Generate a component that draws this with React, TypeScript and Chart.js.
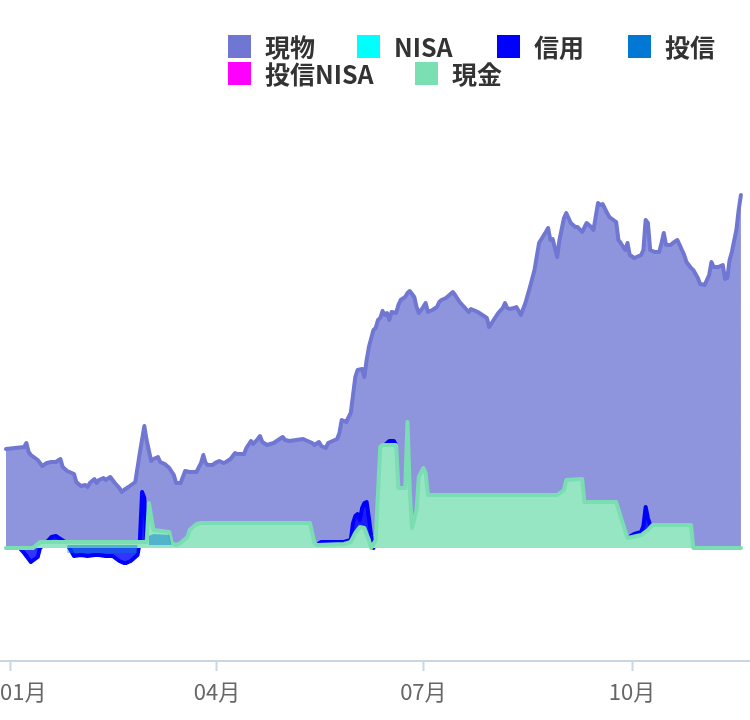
import React, { useEffect, useRef } from 'react';
import { Chart, registerables } from 'chart.js';

Chart.register(...registerables);

// ---- data (day numbers counted from 2024-01-01 = 0) ----
const tickDays = [0, 91, 182, 274];
const tickLabels = ['01月', '04月', '07月', '10月'];

const seriesNames = ['現物', 'NISA', '信用', '投信', '投信NISA', '現金'];
const seriesColors = ['#7077d3', '#00ffff', '#0000ff', '#0078d4', '#ff00ff', '#7adfb2'];

const genbutsuDays = [
  -2, 6, 7, 8, 9, 12, 14, 16, 18, 20,
  22, 23, 25, 28, 29, 31, 33, 34, 35, 37,
  38, 39, 41, 42, 44, 46, 48, 49, 50, 52,
  55, 57, 59, 60, 62, 63, 65, 66, 68, 70,
  72, 73, 75, 77, 79, 82, 84, 85, 86, 87,
  89, 91, 92, 94, 95, 97, 99, 100, 103, 104,
  106, 107, 109, 110, 111, 113, 116, 118, 120, 121,
  123, 126, 129, 131, 133, 134, 136, 137, 139, 140,
  142, 144, 145, 146, 148, 150, 152, 153, 155, 156,
  157, 158, 160, 161, 162, 163, 164, 165, 166, 167,
  168, 170, 171, 172, 174, 175, 176, 178, 179, 180,
  182, 183, 184, 186, 188, 189, 190, 192, 193, 195,
  196, 198, 200, 202, 203, 206, 208, 210, 211, 213,
  215, 217, 218, 219, 220, 222, 223, 225, 227, 229,
  231, 233, 236, 237, 238, 239, 241, 242, 244, 245,
  247, 249, 250, 252, 254, 256, 257, 259, 260, 261,
  263, 264, 267, 268, 269, 271, 272, 273, 275, 278,
  279, 280, 281, 282, 284, 286, 287, 288, 289, 291,
  292, 294, 295, 297, 298, 300, 301, 303, 304, 306,
  308, 309, 310, 312, 314, 315, 316, 317, 318, 320,
  321, 322,
];
const genbutsuValues = [
  99, 101, 105, 96, 93, 88, 82, 85, 86, 86,
  89, 81, 77, 74, 66, 62, 63, 61, 65, 69,
  65, 68, 70, 68, 71, 65, 60, 56, 58, 61,
  66, 95, 122, 108, 87, 89, 91, 86, 84, 80,
  73, 65, 65, 77, 76, 76, 85, 93, 85, 83,
  83, 86, 87, 85, 86, 89, 95, 94, 94, 100,
  107, 104, 109, 112, 106, 103, 105, 108, 111, 108,
  107, 108, 109, 107, 105, 103, 106, 102, 100, 105,
  107, 109, 115, 128, 126, 135, 171, 178, 179, 171,
  188, 201, 218, 220, 228, 230, 237, 233, 235, 228,
  236, 235, 243, 248, 251, 255, 257, 251, 241, 235,
  241, 245, 236, 238, 241, 246, 248, 250, 252, 256,
  253, 246, 241, 236, 239, 236, 233, 230, 221, 228,
  235, 240, 245, 240, 239, 240, 241, 233, 245, 261,
  278, 305, 316, 320, 308, 309, 291, 308, 330, 335,
  325, 321, 321, 316, 325, 321, 318, 345, 343, 344,
  335, 331, 326, 308, 305, 298, 305, 293, 290, 293,
  298, 328, 325, 298, 296, 296, 305, 315, 303, 303,
  305, 308, 303, 293, 286, 280, 278, 270, 264, 263,
  273, 286, 281, 281, 283, 269, 270, 288, 296, 318,
  338, 353,
];

const shinyoDays = [
  4, 6, 9, 12, 13, 16, 18, 20, 22, 24,
  26, 28, 31, 34, 37, 39, 42, 45, 48, 50,
  51, 53, 56, 57, 58, 59, 60, 61,
  135, 137, 147, 150, 151, 152, 153, 154, 155, 156,
  157, 158, 159, 160, 161,
  165, 167, 169, 170, 171,
  272, 275, 278, 279, 280, 281, 282, 283,
];
const shinyoValues = [
  0, -5, -14, -9, 0, 6, 11, 12, 9, 6,
  0, -8, -7, -8, -7, -7, -8, -8, -13, -15,
  -15, -13, -7, 6, 56, 50, 6, null,
  3, 6, 6, 8, 25, 32, 34, 28, 40, 45,
  46, 30, 12, 0, null,
  103, 107, 107, 103, null,
  10, 14, 16, 22, 41, 30, 23, 23,
];

const toshinDays = [25, 56, 57, 61, 63, 70, 71];
const toshinValues = [-5, -5, null, 12, 14, 13, 3];

const nisaDays = [-2, 322];
const nisaValues = [0, 0];
const toshinNisaDays = [-2, 322];
const toshinNisaValues = [0, 0];

const genkinDays = [
  -2, 10, 13, 60, 61, 63, 70, 71, 73, 75,
  78, 79, 82, 84, 132, 134, 135, 147, 150, 152,
  154, 156, 158, 159, 161, 163, 164, 170, 171, 174,
  175, 176, 177, 179, 180, 182, 183, 184, 241, 244,
  245, 252, 253, 267, 269, 272, 278, 281, 283, 300,
  301, 322,
];
const genkinValues = [
  0, 0, 6, 6, 45, 18, 16, 5, 3, 5,
  11, 18, 24, 25, 25, 5, 3, 4, 6, 15,
  21, 20, 8, 0, 8, 101, 103, 103, 60, 60,
  126, 58, 20, 38, 71, 80, 75, 53, 53, 58,
  68, 69, 46, 46, 31, 10, 13, 18, 23, 23,
  0, 0,
];

const toPoints = (days: number[], values: (number | null)[]) =>
  days.map((d, i) => ({ x: d, y: values[i] }));

const legendSlots = [
  { left: 228, top: 35 },
  { left: 357, top: 35 },
  { left: 497, top: 35 },
  { left: 628, top: 35 },
  { left: 228, top: 62 },
  { left: 415, top: 62 },
];

const firstLabelInside = {
  id: 'firstLabelInside',
  beforeDraw(chart: any) {
    const scale = chart.scales.x;
    if (!scale) return;
    const items = scale.getLabelItems();
    if (items && items.length) {
      const o = items[0].options || items[0];
      o.textAlign = 'left';
      if (o.translation) o.translation[0] = 0;
    }
  },
};

export default function App() {
  const ref = useRef<HTMLCanvasElement>(null);

  useEffect(() => {
    const common = {
      pointRadius: 0,
      pointHoverRadius: 0,
      tension: 0,
      borderJoinStyle: 'round' as const,
      borderCapStyle: 'round' as const,
      spanGaps: false,
    };
    const chart = new Chart(ref.current as HTMLCanvasElement, {
      type: 'line',
      data: {
        datasets: [
          {
            ...common,
            label: seriesNames[0],
            data: toPoints(genbutsuDays, genbutsuValues),
            borderColor: seriesColors[0],
            backgroundColor: 'rgba(112,119,211,0.78)',
            borderWidth: 4,
            fill: 'origin',
            order: 6,
          },
          {
            ...common,
            label: seriesNames[1],
            data: toPoints(nisaDays, nisaValues),
            borderColor: seriesColors[1],
            backgroundColor: seriesColors[1],
            borderWidth: 0,
            fill: false,
            order: 5,
          },
          {
            ...common,
            label: seriesNames[2],
            data: toPoints(shinyoDays, shinyoValues),
            borderColor: seriesColors[2],
            backgroundColor: 'rgba(0,0,255,0.8)',
            borderWidth: 4,
            fill: 'origin',
            order: 4,
          },
          {
            ...common,
            label: seriesNames[3],
            data: toPoints(toshinDays, toshinValues),
            borderColor: seriesColors[3],
            backgroundColor: 'rgba(0,120,212,0.45)',
            borderWidth: 0,
            fill: { value: 3 },
            order: 1,
          },
          {
            ...common,
            label: seriesNames[4],
            data: toPoints(toshinNisaDays, toshinNisaValues),
            borderColor: seriesColors[4],
            backgroundColor: seriesColors[4],
            borderWidth: 0,
            fill: false,
            order: 3,
          },
          {
            ...common,
            label: seriesNames[5],
            data: toPoints(genkinDays, genkinValues),
            borderColor: 'rgb(122,222,178)',
            backgroundColor: 'rgb(150,230,195)',
            borderWidth: 4,
            fill: 'origin',
            order: 2,
          },
        ],
      },
      options: {
        responsive: false,
        animation: false,
        devicePixelRatio: 1,
        layout: { padding: { top: 100, left: 0, right: 0, bottom: 0 }, autoPadding: false },
        plugins: {
          legend: { display: false },
          tooltip: { enabled: false },
        },
        scales: {
          x: {
            type: 'linear',
            min: -4.63,
            max: 326.0,
            afterBuildTicks: (scale: any) => {
              scale.ticks = tickDays.map((v) => ({ value: v }));
            },
            afterFit: (scale: any) => {
              scale.height = 59;
              scale.paddingLeft = 0;
              scale.paddingRight = 0;
            },
            ticks: {
              autoSkip: false,
              maxRotation: 0,
              padding: 7,
              color: '#666666',
              font: { family: "'Noto Sans CJK JP', sans-serif", size: 22 },
              callback: (value: any) => {
                const i = tickDays.indexOf(Number(value));
                return i >= 0 ? tickLabels[i] : '';
              },
            },
            grid: {
              display: true,
              drawOnChartArea: false,
              drawTicks: true,
              tickLength: 10,
              tickWidth: 2,
              tickColor: '#ccd6e3',
              color: '#ccd6e3',
            },
            border: { display: true, color: '#ccd6e3', width: 2 },
          },
          y: {
            display: false,
            min: -113,
            max: 448,
          },
        },
      },
      plugins: [firstLabelInside],
    } as any);
    return () => chart.destroy();
  }, []);

  return (
    <div
      style={{
        position: 'absolute',
        left: 0,
        top: 0,
        width: 750,
        height: 720,
        background: '#ffffff',
        overflow: 'hidden',
      }}
    >
      <canvas
        ref={ref}
        width={750}
        height={720}
        style={{ position: 'absolute', left: 0, top: 0, width: 750, height: 720 }}
      />
      {seriesNames.map((name, i) => (
        <div
          key={name}
          style={{
            position: 'absolute',
            left: legendSlots[i].left,
            top: legendSlots[i].top,
            height: 23,
            display: 'flex',
            alignItems: 'center',
            whiteSpace: 'nowrap',
          }}
        >
          <div style={{ width: 23, height: 23, background: seriesColors[i] }} />
          <span
            style={{
              marginLeft: 14,
              fontFamily: "'Noto Sans CJK JP', sans-serif",
              fontSize: 25,
              fontWeight: 700,
              color: '#333333',
              lineHeight: '23px',
            }}
          >
            {name}
          </span>
        </div>
      ))}
    </div>
  );
}
